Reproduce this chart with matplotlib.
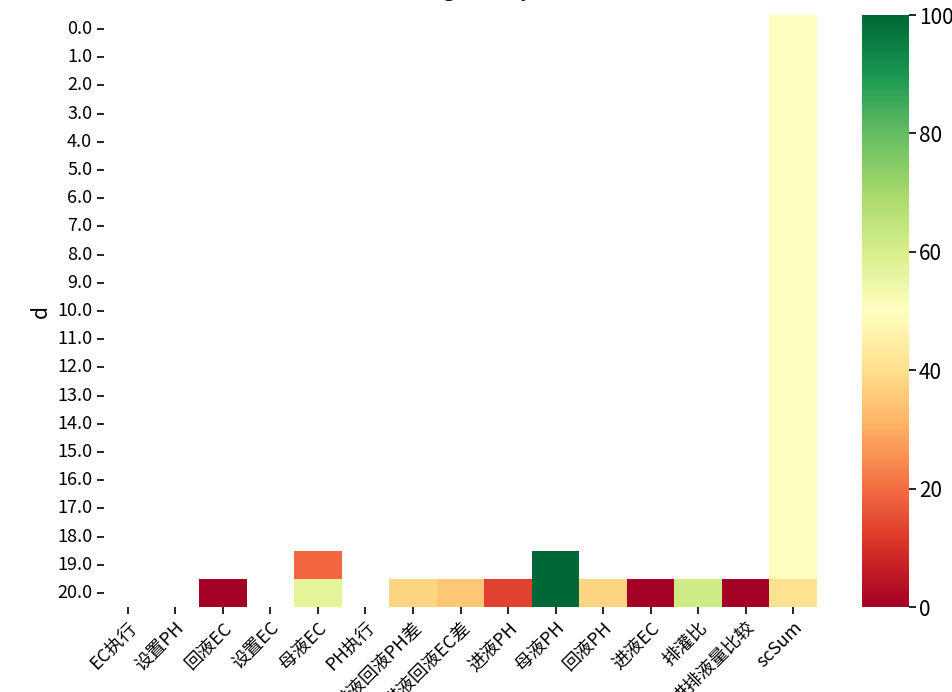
import numpy as np
import pandas as pd
import matplotlib
matplotlib.use("Agg")
import matplotlib.pyplot as plt
import seaborn as sns

plt.rcParams['font.family'] = ['Noto Sans CJK SC', 'DejaVu Sans']
plt.rcParams['axes.unicode_minus'] = False

days = [float(i) for i in range(21)]
columns = ['EC执行', '设置PH', '回液EC', '设置EC', '母液EC', 'PH执行', '进液回液PH差',
           '进液回液EC差', '进液PH', '母液PH', '回液PH', '进液EC', '排灌比', '进排液量比较', 'scSum']

nan = np.nan
# values only on the last rows; everything else missing
row19 = [nan, nan, nan, nan, 19, nan, nan, nan, nan, 100, nan, nan, nan, nan, 50]
row20 = [nan, nan, 0, nan, 57, nan, 38, 35, 13, 100, 38, 0, 62, 0, 41]
sc_sum_early = [50] * 19

data = np.full((len(days), len(columns)), np.nan)
data[:19, columns.index('scSum')] = sc_sum_early
data[19] = row19
data[20] = row20
df = pd.DataFrame(data, index=days, columns=columns)

fig = plt.figure(figsize=(9.52, 6.92), dpi=100)
ax = fig.add_axes([104 / 952, 85 / 692, 713 / 952, 592 / 692])
cax = fig.add_axes([862 / 952, 85 / 692, 47 / 952, 592 / 692])

sns.heatmap(df, ax=ax, cbar_ax=cax, cmap='RdYlGn', vmin=0, vmax=100)
ax.set_title('Rating history', fontsize=16, pad=14)
ax.set_ylabel('d', fontsize=15)
ax.set_yticklabels([str(d) for d in days], rotation=0, fontsize=13)
ax.set_xticklabels(columns, rotation=45, ha='right', rotation_mode='anchor', fontsize=13)
ax.tick_params(axis='both', length=5, width=1.2)
cax.tick_params(labelsize=15, length=5, width=1.2, pad=2)

fig.savefig('out.png', dpi=100)
